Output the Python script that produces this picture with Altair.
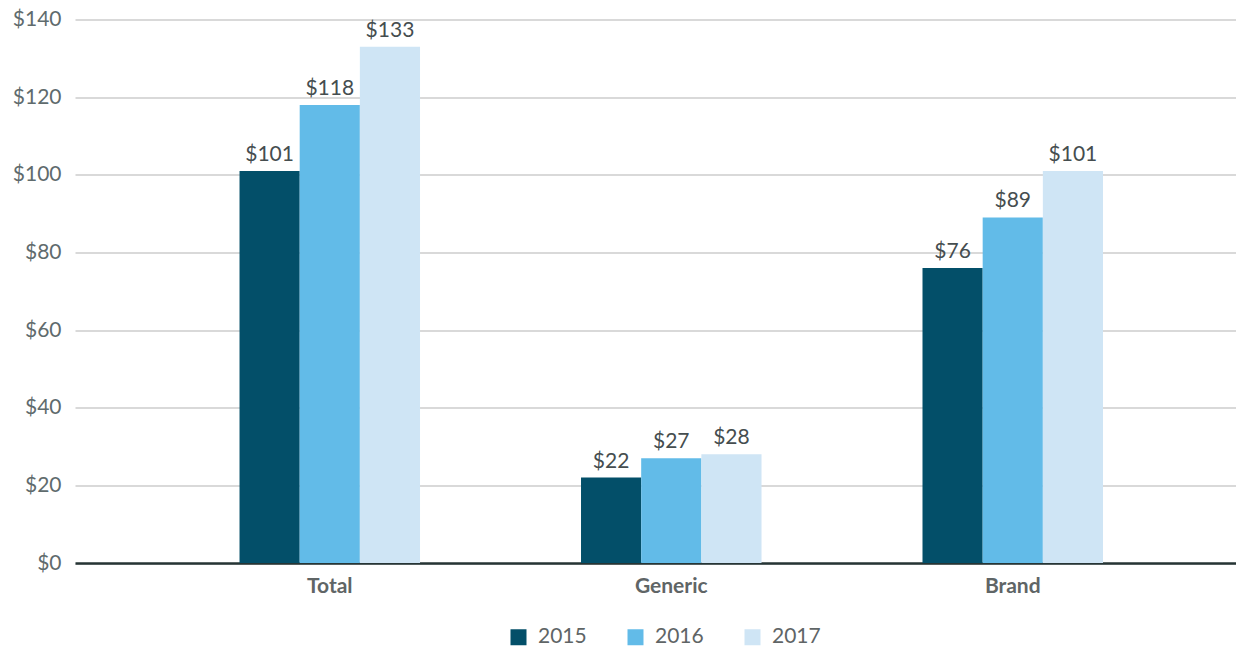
import altair as alt
import pandas as pd

# Spending by drug type (in billions), three years
categories = ["Total", "Generic", "Brand"]
years = ["2015", "2016", "2017"]
values_2015 = [101, 22, 76]
values_2016 = [118, 27, 89]
values_2017 = [133, 28, 101]
y_ticks = [0, 20, 40, 60, 80, 100, 120, 140]
colors = ["#034f69", "#62bbe8", "#cfe5f5"]

rows = []
for year, vals in zip(years, [values_2015, values_2016, values_2017]):
    for cat, v in zip(categories, vals):
        rows.append({"category": cat, "year": year, "value": v, "label": f"${v}"})
df = pd.DataFrame(rows)

FONT = "Lato"
FS = 21

x_enc = alt.X(
    "category:N",
    sort=categories,
    title=None,
    scale=alt.Scale(paddingInner=0.4714, paddingOuter=0.4356, align=0.553),
    axis=alt.Axis(
        labelAngle=0,
        labelFont=FONT,
        labelFontSize=FS,
        labelFontWeight="bold",
        labelColor="#5f6566",
        labelPadding=12,
        ticks=False,
        domain=True,
        domainColor="#263535",
        domainWidth=2.5,
        grid=False,
    ),
)
xoff_enc = alt.XOffset("year:N", sort=years, scale=alt.Scale(paddingInner=0, paddingOuter=0))
y_enc = alt.Y(
    "value:Q",
    title=None,
    scale=alt.Scale(domain=[0, 140], nice=False),
    axis=alt.Axis(
        values=y_ticks,
        labelExpr="'$' + datum.value",
        labelFont=FONT,
        labelFontSize=FS,
        labelColor="#5f6b6d",
        labelPadding=14,
        ticks=False,
        domain=False,
        gridColor="#d9d9d9",
        gridWidth=2,
    ),
)

base = alt.Chart(df).encode(x=x_enc, xOffset=xoff_enc, y=y_enc)

bars = base.mark_bar().encode(
    color=alt.Color(
        "year:N",
        sort=years,
        scale=alt.Scale(domain=years, range=colors),
        legend=alt.Legend(
            title=None,
            orient="none",
            direction="horizontal",
            legendX=433,
            legendY=607,
            symbolType="square",
            symbolSize=256,
            symbolStrokeWidth=0,
            labelFont=FONT,
            labelFontSize=FS,
            labelColor="#5f6566",
            labelOffset=9,
            columnPadding=38,
        ),
    ),
)

labels = base.mark_text(
    baseline="alphabetic", dy=-10, font=FONT, fontSize=FS, color="#454d4f"
).encode(text="label:N")

chart = (
    alt.layer(bars, labels)
    .properties(
        width=1161,
        height=543.5,
        background="white",
        autosize=alt.AutoSizeParams(type="none"),
        padding={"left": 75, "top": 19.5, "right": 0, "bottom": 89},
    )
    .configure_view(strokeWidth=0, stroke="transparent")
    .configure_axisY(domain=False)
)

chart.save("out.html", embed_options={"renderer": "svg", "actions": False})
